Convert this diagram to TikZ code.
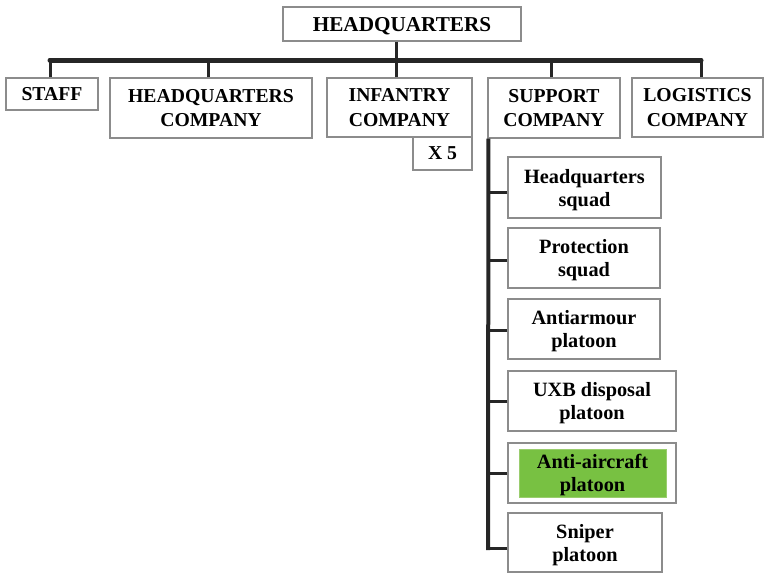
\documentclass[tikz,border=0pt]{standalone}
\usepackage{fontspec}
\setmainfont{Liberation Serif}
\definecolor{linec}{HTML}{262626}
\definecolor{boxc}{HTML}{8C8C8C}
\definecolor{greenf}{HTML}{78C142}
\definecolor{greenb}{HTML}{9ACD6E}
\tikzset{
  unit/.style={draw=boxc, line width=1.1pt, fill=white, align=center, inner sep=0pt,
    text depth=0pt, font=\bfseries\fontsize{19.7}{24.5}\selectfont},
  subunit/.style={unit, font=\bfseries\fontsize{20.3}{23}\selectfont},
  bar/.style={draw=linec, line width=5pt, line cap=round},
  stem/.style={draw=linec, line width=3pt},
  spine/.style={draw=linec, line width=4pt},
  tick/.style={draw=linec, line width=3pt},
}
\begin{document}
\begin{tikzpicture}[x=1pt,y=-1pt]
\useasboundingbox (0,0) rectangle (764,573);
% top level
\node[unit, minimum width=238pt, minimum height=34pt, font=\bfseries\fontsize{21.2}{25}\selectfont] (hq) at (402,24) {HEADQUARTERS};
\node[unit, minimum width=92pt, minimum height=32pt] (staff) at (52,94) {STAFF};
\node[unit, minimum width=202pt, minimum height=60pt] (hqc) at (211,108) {HEADQUARTERS\\COMPANY};
\node[unit, minimum width=145pt, minimum height=59pt] (inf) at (399.5,107.5) {INFANTRY\\COMPANY};
\node[unit, minimum width=59pt, minimum height=33pt] (x5) at (442.5,153.5) {X 5};
\node[unit, minimum width=132pt, minimum height=60pt] (sup) at (554,108) {SUPPORT\\COMPANY};
\node[unit, minimum width=131pt, minimum height=59pt] (log) at (697.5,107.5) {LOGISTICS\\COMPANY};
% bar
\coordinate (barL) at (50,60);
\coordinate (barR) at (701,60);
\draw[bar] (barL) -- (barR);
\draw[stem] ([xshift=-6pt]hq.south) -- ([xshift=-6pt]hq.south |- barL);
\draw[stem] ([xshift=-2pt]staff.north) -- ([xshift=-2pt]staff.north |- barL);
\draw[stem] ([xshift=-3pt]hqc.north) -- ([xshift=-3pt]hqc.north |- barL);
\draw[stem] ([xshift=-3.5pt]inf.north) -- ([xshift=-3.5pt]inf.north |- barL);
\draw[stem] ([xshift=-3pt]sup.north) -- ([xshift=-3pt]sup.north |- barL);
\draw[stem] ([xshift=3.5pt]log.north) -- ([xshift=3.5pt]log.north |- barL);
% sub units
\node[subunit, minimum width=153pt, minimum height=61pt] (b1) at (584.5,187.5) {Headquarters\\squad};
\node[subunit, minimum width=152pt, minimum height=60pt] (b2) at (584,258) {Protection\\squad};
\node[subunit, minimum width=152pt, minimum height=60pt] (b3) at (584,329) {Antiarmour\\platoon};
\node[subunit, minimum width=168pt, minimum height=60pt] (b4) at (592,401) {UXB disposal\\platoon};
\node[subunit, minimum width=168pt, minimum height=60pt] (b5) at (592,473) {};
\node[subunit, draw=greenb, line width=1pt, fill=greenf, minimum width=147pt, minimum height=48pt] (b5in) at (592.5,473) {Anti-aircraft\\platoon};
\node[subunit, minimum width=154pt, minimum height=59pt] (b6) at (585,542.5) {Sniper\\platoon};
% spine
\coordinate (spB) at (488,550);
\draw[spine] ([xshift=1pt]sup.south west) -- (spB);
\draw[tick] ([yshift=-5pt]b1.west) -- ([yshift=-5pt]b1.west -| spB);
\draw[tick] ([yshift=-2pt]b2.west) -- ([yshift=-2pt]b2.west -| spB);
\draw[tick] ([yshift=-1pt]b3.west) -- ([yshift=-1pt]b3.west -| spB);
\draw[tick] (b4.west) -- (b4.west -| spB);
\draw[tick] (b5.west) -- (b5.west -| spB);
\draw[tick] ([yshift=-5.5pt]b6.west) -- ([yshift=-5.5pt]b6.west -| spB);
\end{tikzpicture}
\end{document}
